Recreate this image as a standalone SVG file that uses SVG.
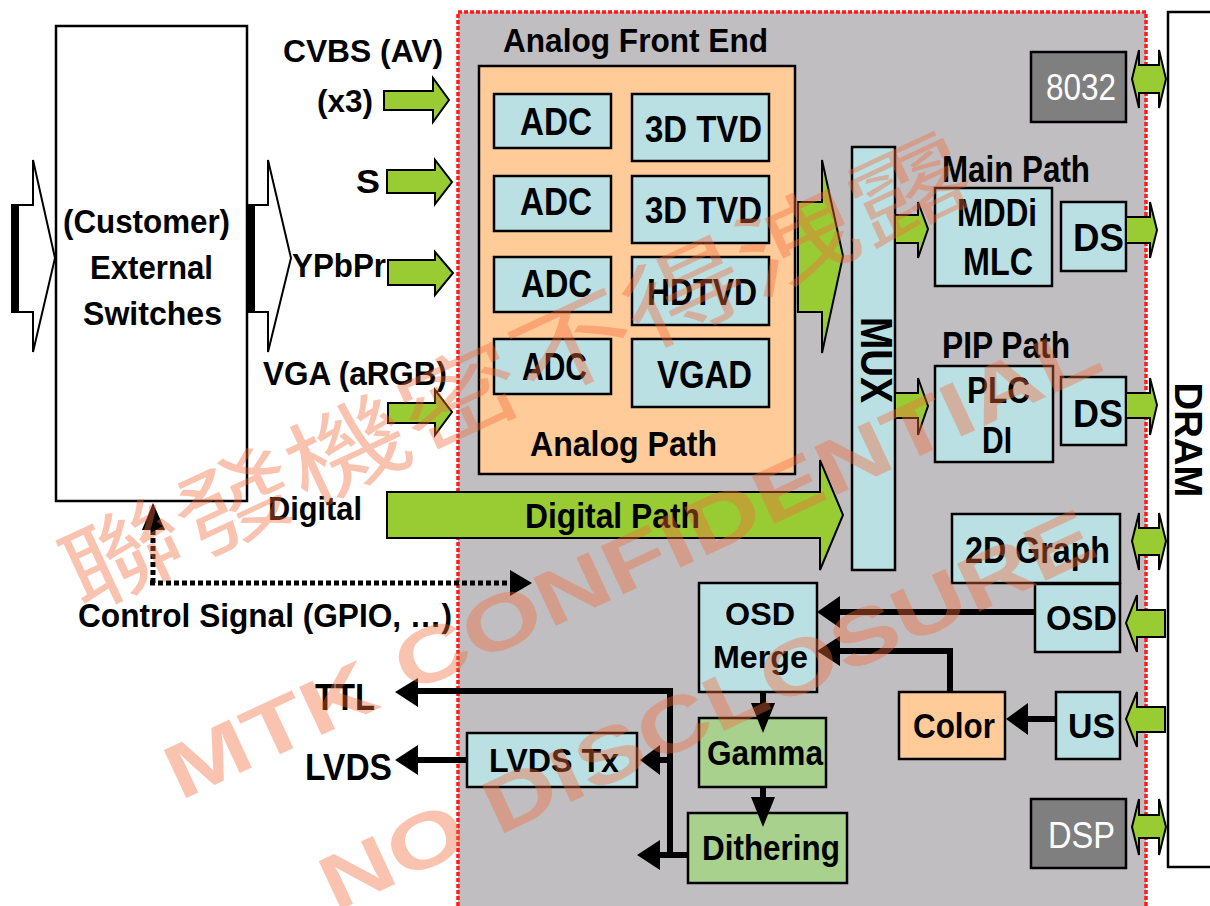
<svg xmlns="http://www.w3.org/2000/svg" width="1210" height="906" viewBox="0 0 1210 906">
<style>
.t{font-family:"Liberation Sans",Arial,sans-serif;font-weight:bold;fill:#000}
.w{fill:#fff;font-weight:normal}
.bl{fill:#BBE0E3;stroke:#000;stroke-width:2.5}
.or{fill:#FFCC99;stroke:#000;stroke-width:2.5}
.lg{fill:#A9D18E;stroke:#000;stroke-width:2.5}
.dg{fill:#7F7F7F;stroke:#000;stroke-width:2.5}
.wb{fill:#fff;stroke:#000;stroke-width:2.5}
.ga{fill:#99CC33;stroke:#000;stroke-width:2;stroke-linejoin:miter}
.ha{fill:#fff;stroke:#000;stroke-width:2}
.ln{stroke:#000;stroke-width:6;fill:none}
.ah{fill:#000}
.dot{stroke:#000;stroke-width:5;stroke-dasharray:5 3;fill:none}
.wm{font-family:"Liberation Sans",Arial,sans-serif;font-weight:bold;fill:#F26B3A;opacity:0.4}
.wmc{font-family:"Noto Sans CJK TC","Noto Sans CJK SC",sans-serif;font-weight:normal;fill:#F26B3A;opacity:0.4}
</style>

<g id="chip">
<rect x="458" y="12" width="688" height="896" fill="#C0BEC0" stroke="#FF1A1A" stroke-width="3.5" stroke-dasharray="4 2"/>
</g>

<g id="dram">
<rect class="wb" x="1168" y="12" width="46" height="855"/>
<text class="t" transform="translate(1175,440) rotate(90)" text-anchor="middle" font-size="38" textLength="115" lengthAdjust="spacingAndGlyphs">DRAM</text>
</g>

<g id="switches">
<rect class="wb" x="56" y="26" width="191" height="475"/>
<text class="t" x="63" y="233" font-size="33" textLength="167" lengthAdjust="spacingAndGlyphs">(Customer)</text>
<text class="t" x="90" y="279" font-size="33" textLength="123" lengthAdjust="spacingAndGlyphs">External</text>
<text class="t" x="83" y="325" font-size="33" textLength="139" lengthAdjust="spacingAndGlyphs">Switches</text>
</g>

<g id="labels-in">
<text class="t" x="283" y="62" font-size="31" textLength="160" lengthAdjust="spacingAndGlyphs">CVBS (AV)</text>
<text class="t" x="317" y="112" font-size="31" textLength="56" lengthAdjust="spacingAndGlyphs">(x3)</text>
<text class="t" x="356" y="193" font-size="33" textLength="24" lengthAdjust="spacingAndGlyphs">S</text>
<text class="t" x="292" y="277" font-size="33" textLength="94" lengthAdjust="spacingAndGlyphs">YPbPr</text>
<text class="t" x="263" y="385" font-size="33" textLength="184" lengthAdjust="spacingAndGlyphs">VGA (aRGB)</text>
<text class="t" x="268" y="520" font-size="33" textLength="94" lengthAdjust="spacingAndGlyphs">Digital</text>
<text class="t" x="78" y="627" font-size="33" textLength="374" lengthAdjust="spacingAndGlyphs">Control Signal (GPIO, …)</text>
<text class="t" x="315" y="710" font-size="36" textLength="60" lengthAdjust="spacingAndGlyphs">TTL</text>
<text class="t" x="305" y="780" font-size="36" textLength="87" lengthAdjust="spacingAndGlyphs">LVDS</text>
</g>

<g id="afe">
<text class="t" x="503" y="52" font-size="33" textLength="265" lengthAdjust="spacingAndGlyphs">Analog Front End</text>
<rect class="or" x="479" y="66" width="316" height="408"/>
<text class="t" x="530" y="456" font-size="35" textLength="187" lengthAdjust="spacingAndGlyphs">Analog Path</text>
</g>

<g id="adc1"><rect class="bl" x="494" y="94" width="117" height="54"/><text class="t" x="520" y="135" font-size="38" textLength="72" lengthAdjust="spacingAndGlyphs">ADC</text></g>
<g id="adc2"><rect class="bl" x="494" y="176" width="117" height="55"/><text class="t" x="520" y="215" font-size="38" textLength="72" lengthAdjust="spacingAndGlyphs">ADC</text></g>
<g id="adc3"><rect class="bl" x="494" y="257" width="117" height="55"/><text class="t" x="521" y="297" font-size="38" textLength="71" lengthAdjust="spacingAndGlyphs">ADC</text></g>
<g id="adc4"><rect class="bl" x="494" y="339" width="117" height="55"/><text class="t" x="522" y="380" font-size="38" textLength="65" lengthAdjust="spacingAndGlyphs">ADC</text></g>
<g id="tvd1"><rect class="bl" x="632" y="94" width="137" height="67"/><text class="t" x="645" y="142" font-size="37" textLength="117" lengthAdjust="spacingAndGlyphs">3D TVD</text></g>
<g id="tvd2"><rect class="bl" x="632" y="176" width="137" height="67"/><text class="t" x="645" y="223" font-size="37" textLength="117" lengthAdjust="spacingAndGlyphs">3D TVD</text></g>
<g id="hdtvd"><rect class="bl" x="632" y="257" width="137" height="68"/><text class="t" x="647" y="305" font-size="37" textLength="110" lengthAdjust="spacingAndGlyphs">HDTVD</text></g>
<g id="vgad"><rect class="bl" x="632" y="339" width="137" height="68"/><text class="t" x="657" y="388" font-size="38" textLength="95" lengthAdjust="spacingAndGlyphs">VGAD</text></g>

<g id="mux"><rect class="bl" x="852" y="147" width="43" height="423"/><text class="t" transform="translate(861,360) rotate(90)" text-anchor="middle" font-size="44" textLength="86" lengthAdjust="spacingAndGlyphs">MUX</text></g>

<g id="cpu8032"><rect class="dg" x="1031" y="52" width="95" height="70"/><text class="t w" x="1046" y="100" font-size="37" textLength="70" lengthAdjust="spacingAndGlyphs">8032</text></g>

<g id="mainpath">
<text class="t" x="942" y="182" font-size="36" textLength="148" lengthAdjust="spacingAndGlyphs">Main Path</text>
<rect class="bl" x="935" y="188" width="117" height="98"/>
<text class="t" x="957" y="226" font-size="38" textLength="80" lengthAdjust="spacingAndGlyphs">MDDi</text>
<text class="t" x="963" y="275" font-size="38" textLength="70" lengthAdjust="spacingAndGlyphs">MLC</text>
</g>
<g id="ds-main"><rect class="bl" x="1061" y="202" width="65" height="69"/><text class="t" x="1073" y="251" font-size="38" textLength="51" lengthAdjust="spacingAndGlyphs">DS</text></g>

<g id="pippath">
<text class="t" x="942" y="358" font-size="36" textLength="128" lengthAdjust="spacingAndGlyphs">PIP Path</text>
<rect class="bl" x="935" y="366" width="118" height="96"/>
<text class="t" x="967" y="403" font-size="36" textLength="63" lengthAdjust="spacingAndGlyphs">PLC</text>
<text class="t" x="982" y="453" font-size="36" textLength="30" lengthAdjust="spacingAndGlyphs">DI</text>
</g>
<g id="ds-pip"><rect class="bl" x="1061" y="377" width="65" height="68"/><text class="t" x="1073" y="427" font-size="38" textLength="50" lengthAdjust="spacingAndGlyphs">DS</text></g>

<g id="graph2d"><rect class="bl" x="952" y="514" width="168" height="69"/><text class="t" x="965" y="563" font-size="37" textLength="145" lengthAdjust="spacingAndGlyphs">2D Graph</text></g>
<g id="osd"><rect class="bl" x="1035" y="584" width="85" height="68"/><text class="t" x="1046" y="630" font-size="35" textLength="71" lengthAdjust="spacingAndGlyphs">OSD</text></g>
<g id="color"><rect class="or" x="899" y="692" width="106" height="67"/><text class="t" x="913" y="738" font-size="35" textLength="82" lengthAdjust="spacingAndGlyphs">Color</text></g>
<g id="us"><rect class="bl" x="1056" y="692" width="64" height="67"/><text class="t" x="1068" y="738" font-size="35" textLength="47" lengthAdjust="spacingAndGlyphs">US</text></g>
<g id="dsp"><rect class="dg" x="1031" y="799" width="95" height="69"/><text class="t w" x="1048" y="848" font-size="36" textLength="67" lengthAdjust="spacingAndGlyphs">DSP</text></g>

<g id="osdmerge"><rect class="bl" x="699" y="583" width="118" height="109"/>
<text class="t" x="725" y="625" font-size="32" textLength="70" lengthAdjust="spacingAndGlyphs">OSD</text>
<text class="t" x="713" y="668" font-size="32" textLength="95" lengthAdjust="spacingAndGlyphs">Merge</text></g>
<g id="gamma"><rect class="lg" x="699" y="718" width="127" height="69"/><text class="t" x="707" y="765" font-size="35" textLength="116" lengthAdjust="spacingAndGlyphs">Gamma</text></g>
<g id="dithering"><rect class="lg" x="688" y="813" width="159" height="70"/><text class="t" x="702" y="860" font-size="35" textLength="138" lengthAdjust="spacingAndGlyphs">Dithering</text></g>
<g id="lvdstx"><rect class="bl" x="467" y="733" width="170" height="54"/><text class="t" x="489" y="772" font-size="34" textLength="130" lengthAdjust="spacingAndGlyphs">LVDS Tx</text></g>

<g id="connectors">
<polygon class="ha" points="12,205 33,205 33,160 55,258 33,352 33,312 12,312"/>
<rect x="12" y="205" width="7" height="107" fill="#000"/>
<polygon class="ha" points="247,205 268,205 268,160 291,258 268,352 268,312 247,312"/>
<rect x="247" y="205" width="8" height="107" fill="#000"/>
<polygon class="ga" points="384,91 433,91 433,78 449,100 433,122 433,110 384,110"/>
<polygon class="ga" points="387,170 435,170 435,160 452,182 435,204 435,193 387,193"/>
<polygon class="ga" points="388,260 435,260 435,252 453,273 435,295 435,285 388,285"/>
<polygon class="ga" points="388,403 435,403 435,390 452,412 435,435 435,423 388,423"/>
<polygon class="ga" points="798,202 822,202 822,160 843,256 822,353 822,312 798,312"/>
<polygon class="ga" points="387,492 820,492 820,460 843,515 820,570 820,538 387,538"/>
<text class="t" x="525" y="528" font-size="35" textLength="175" lengthAdjust="spacingAndGlyphs">Digital Path</text>
<polygon class="ga" points="895,215 918,215 918,202 928,229 918,258 918,243 895,243"/>
<polygon class="ga" points="895,393 918,393 918,378 928,406 918,435 918,418 895,418"/>
<polygon class="ga" points="1126,217 1150,217 1150,202 1157,230 1150,258 1150,243 1126,243"/>
<polygon class="ga" points="1126,393 1150,393 1150,378 1157,405 1150,435 1150,418 1126,418"/>
<polygon class="ga" points="1165,610 1137,610 1137,595 1126,623 1137,652 1137,637 1165,637"/>
<polygon class="ga" points="1165,707 1137,707 1137,692 1126,719 1137,747 1137,732 1165,732"/>
<polygon class="ga" points="1132,79 1139,50 1139,65 1159,65 1159,50 1166,79 1159,108 1159,93 1139,93 1139,108"/>
<polygon class="ga" points="1132,541 1139,513 1139,528 1159,528 1159,513 1166,541 1159,570 1159,555 1139,555 1139,570"/>
<polygon class="ga" points="1132,827 1139,799 1139,815 1159,815 1159,799 1166,827 1159,855 1159,838 1139,838 1139,855"/>
<path class="dot" d="M153,583 V530"/>
<polygon class="ah" points="153,503 142,530 165,530"/>
<path class="dot" d="M150,583 H510"/>
<polygon class="ah" points="532,583 510,570 510,596"/>
<path class="ln" d="M1035,612 H838"/>
<polygon class="ah" points="817,612 840,596 840,628"/>
<path class="ln" d="M950,692 V651 H838"/>
<polygon class="ah" points="817,651 840,636 840,666"/>
<path class="ln" d="M1056,719 H1026"/>
<polygon class="ah" points="1006,719 1028,703 1028,735"/>
<path class="ln" d="M763,692 V706"/>
<polygon class="ah" points="763,733 751,703 775,703"/>
<path class="ln" d="M763,787 V800"/>
<polygon class="ah" points="763,827 751,797 775,797"/>
<path class="ln" d="M688,855 H670 V691 H416"/>
<path class="ln" d="M670,855 H658"/>
<polygon class="ah" points="637,855 660,840 660,870"/>
<path class="ln" d="M670,760 H658"/>
<polygon class="ah" points="640,760 660,745 660,775"/>
<polygon class="ah" points="395,692 418,678 418,707"/>
<path class="ln" d="M467,760 H416"/>
<polygon class="ah" points="395,760 418,745 418,775"/>
</g>

<g id="watermark">
<text class="wm" transform="translate(180,801) rotate(-25)" font-size="77" textLength="1022" lengthAdjust="spacingAndGlyphs">MTK CONFIDENTIAL</text>
<text class="wm" transform="translate(335,912) rotate(-25)" font-size="77" textLength="845" lengthAdjust="spacingAndGlyphs">NO DISCLOSURE</text>
<text class="wmc" transform="translate(82,612) rotate(-25)" font-size="95" textLength="990" lengthAdjust="spacingAndGlyphs">聯發機密不得洩露</text>
</g>
</svg>
